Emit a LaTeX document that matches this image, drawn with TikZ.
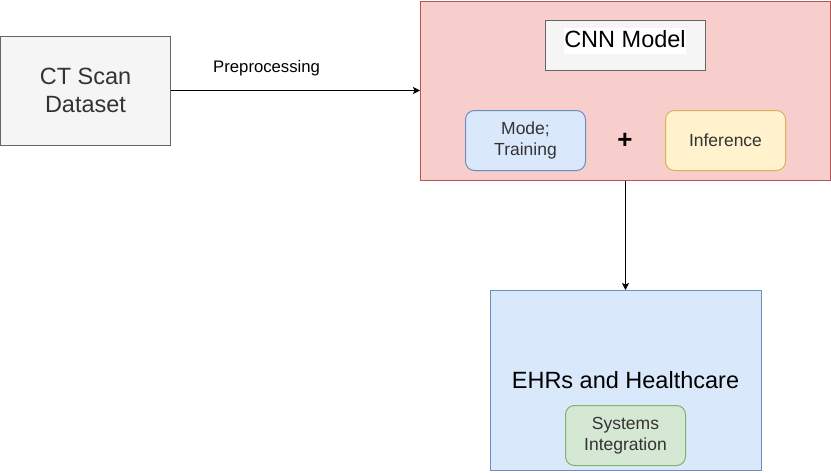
\documentclass[tikz,border=0pt]{standalone}
\usepackage{fontspec}
\setmainfont{Liberation Sans}
\usetikzlibrary{arrows.meta}
\definecolor{grayfill}{HTML}{F5F5F5}
\definecolor{graystroke}{HTML}{666666}
\definecolor{redfill}{HTML}{F8CECC}
\definecolor{redstroke}{HTML}{B85450}
\definecolor{bluefill}{HTML}{DAE8FC}
\definecolor{bluestroke}{HTML}{6C8EBF}
\definecolor{yellowfill}{HTML}{FFF2CC}
\definecolor{yellowstroke}{HTML}{D6B656}
\definecolor{greenfill}{HTML}{D5E8D4}
\definecolor{greenstroke}{HTML}{82B366}
\definecolor{darktext}{HTML}{333333}
\tikzset{
  shapebox/.style={draw, line width=1pt, inner sep=0pt, align=center},
  graybox/.style={shapebox, fill=grayfill, draw=graystroke},
  redbox/.style={shapebox, fill=redfill, draw=redstroke},
  bluebox/.style={shapebox, fill=bluefill, draw=bluestroke},
  roundbox/.style={shapebox, rounded corners=9pt, text=darktext,
    font=\fontsize{17.5}{21}\selectfont},
  bigtext/.style={font=\fontsize{23.5}{28}\selectfont},
  link/.style={line width=1pt, -{Stealth[length=7pt,width=7pt,inset=1.5pt]}}
}
\begin{document}
\begin{tikzpicture}[x=1pt,y=-1pt]
\useasboundingbox (0,0) rectangle (831,472);

% CT Scan dataset
\node[graybox, minimum width=170pt, minimum height=109pt, bigtext, text=darktext]
  (ct) at (85.5,90.5) {CT Scan\\Dataset};

% CNN container
\node[redbox, minimum width=410pt, minimum height=179pt]
  (cnn) at (625.5,90.5) {};

% CNN Model box
\node[graybox, minimum width=160pt, minimum height=50pt]
  (cnnmodel) at (625.5,45.5) {};
\node[fill=white, inner xsep=0.5pt, inner ysep=0pt, text height=20pt, text depth=6pt,
  bigtext, text=black] (cnnlabel) at (625,40.5) {CNN Model};

% Mode; Training
\node[roundbox, fill=bluefill, draw=bluestroke, minimum width=120pt, minimum height=60pt]
  (train) at (525.5,140.5) {Mode;\\Training};

% plus
\node[font=\fontsize{26}{30}\selectfont\bfseries] (plus) at (625,141) {+};

% Inference
\node[roundbox, fill=yellowfill, draw=yellowstroke, minimum width=120pt, minimum height=60pt]
  (infer) at (725.5,140.5) {Inference};

% EHRs container
\node[bluebox, minimum width=271pt, minimum height=180pt]
  (ehr) at (625.5,380.5) {};
\node[bigtext, text=black, inner sep=0pt] (ehrlabel) at (625.5,380) {EHRs and Healthcare};

% Systems Integration
\node[roundbox, fill=greenfill, draw=greenstroke, minimum width=120pt, minimum height=60pt]
  (sys) at (625.5,435.5) {Systems\\Integration};

% connectors
\draw[link] (ct.east) -- node[pos=0.384, above=11pt, font=\fontsize{16.7}{20}\selectfont, text=black]
  (pre) {Preprocessing} (cnn.west |- ct.east);
\draw[link] (cnn.south) -- (ehr.north);
\end{tikzpicture}
\end{document}
